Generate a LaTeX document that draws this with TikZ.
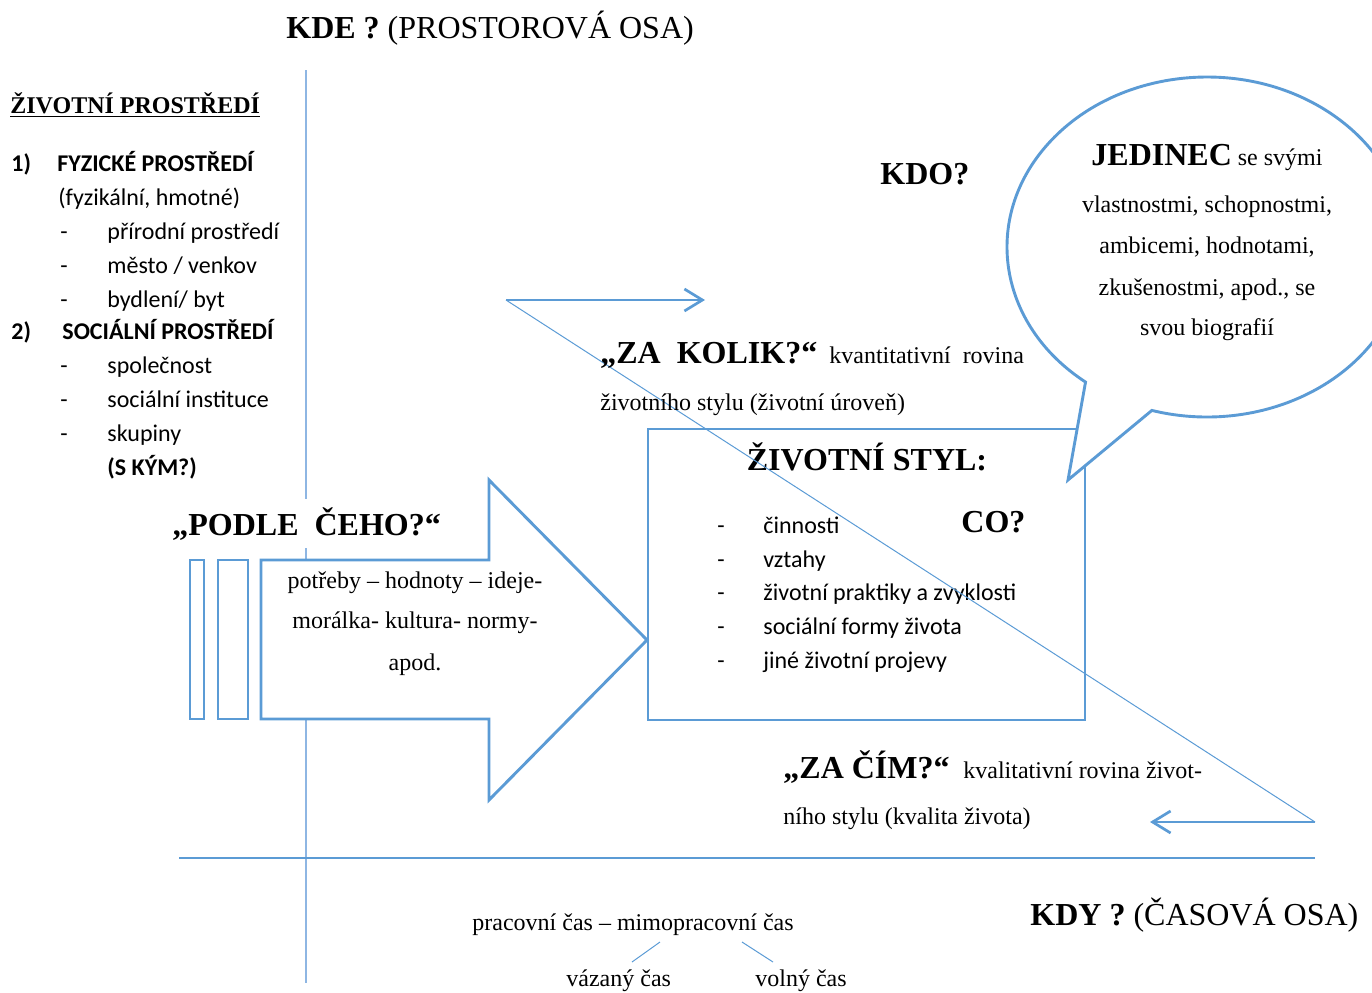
\documentclass[tikz,border=0pt]{standalone}
\usepackage{fontspec}
\setmainfont{Liberation Serif}
\newfontfamily\calibri{Carlito}
\usepackage{tikz}
\usetikzlibrary{arrows.meta,calc}
\definecolor{wordblue}{RGB}{91,155,213}
\definecolor{axisblue}{RGB}{142,182,227}
\tikzset{my shape/.style={draw=wordblue,line width=1.45pt,fill=white},
  my arrow/.style={draw=wordblue,line width=1.35pt,-{Straight Barb[length=9pt,width=11pt]}},
  thin line/.style={draw=wordblue,line width=0.5pt},
  big/.style={font=\fontsize{16}{19}\selectfont\bfseries},
  txt/.style={font=\fontsize{12}{14}\selectfont},
  cal/.style={font=\calibri\fontsize{12}{14}\selectfont}}

\begin{document}
\begin{tikzpicture}[x=0.5pt,y=-0.5pt,every node/.style={inner sep=0pt}]
  \useasboundingbox (0,0) rectangle (1372,992);
  \clip (0,0) rectangle (1372,992);
  % axes
  \coordinate (T) at (306,70);
  \coordinate (B) at (306,983);
  \coordinate (L) at (179,858);
  \coordinate (R) at (1315,858);
  \draw[axisblue,line width=1pt] (T) -- (B);
  \draw[wordblue,line width=1pt] (L) -- (R);
  \node[anchor=base west,font=\fontsize{16}{19}\selectfont] (kde) at (286,38) {\textbf{KDE ?} (PROSTOROVÁ OSA)};
  \node[anchor=base west,font=\fontsize{16}{19}\selectfont] (kdy) at (1030,925) {\textbf{KDY ?} (ČASOVÁ OSA)};
  % left column
  \node[txt,anchor=base west] (env) at (10,113) {\textbf{\underline{ŽIVOTNÍ PROSTŘEDÍ}}};
  \node[cal,anchor=base west] (n1) at (11,171) {\textbf{1)}};
  \node[cal,anchor=base west] (fyz) at (57,171) {\textbf{FYZICKÉ PROSTŘEDÍ}};
  \node[cal,anchor=base west] (fyzb) at (58,205) {(fyzikální, hmotné)};
  \node[cal,anchor=base west] (d1) at (60,239) {-};
  \node[cal,anchor=base west] (f1) at (107,239) {přírodní prostředí};
  \node[cal,anchor=base west] (d2) at (60,273) {-};
  \node[cal,anchor=base west] (f2) at (107,273) {město / venkov};
  \node[cal,anchor=base west] (d3) at (60,307) {-};
  \node[cal,anchor=base west] (f3) at (107,307) {bydlení/ byt};
  \node[cal,anchor=base west] (n2) at (11,339) {\textbf{2)}};
  \node[cal,anchor=base west] (soc) at (62,339) {\textbf{SOCIÁLNÍ PROSTŘEDÍ}};
  \node[cal,anchor=base west] (d4) at (60,373) {-};
  \node[cal,anchor=base west] (s1) at (107,373) {společnost};
  \node[cal,anchor=base west] (d5) at (60,407) {-};
  \node[cal,anchor=base west] (s2) at (107,407) {sociální instituce};
  \node[cal,anchor=base west] (d6) at (60,441) {-};
  \node[cal,anchor=base west] (s3) at (107,441) {skupiny};
  \node[cal,anchor=base west] (skym) at (107,475) {\textbf{(S KÝM?)}};
  % block arrow
  \draw[my shape] (190,560) rectangle (204,719);
  \draw[my shape] (218,560) rectangle (248,719);
  \draw[my shape] (261,560) -- (489,560) -- (489,480) -- (647,640) -- (489,800) -- (489,719) -- (261,719) -- cycle;
  \node[big,fill=white,inner ysep=4pt,anchor=base west] (podle) at (172,535) {„PODLE\ \ ČEHO?“};
  \node[txt,anchor=base] (p1) at (415,588) {potřeby – hodnoty – ideje-};
  \node[txt,anchor=base] (p2) at (415,628) {morálka- kultura- normy-};
  \node[txt,anchor=base] (p3) at (415,670) {apod.};
  % box
  \draw[my shape,fill=none] (648,429) rectangle (1085,720);
  \node[big,anchor=base] (styl) at (867,470) {ŽIVOTNÍ STYL:};
  \node[big,anchor=base west] (co) at (961,532) {CO?};
  \node[cal,anchor=base west] (e1) at (717,533) {-};
  \node[cal,anchor=base west] (c1) at (763,533) {činnosti};
  \node[cal,anchor=base west] (e2) at (717,567) {-};
  \node[cal,anchor=base west] (c2) at (763,567) {vztahy};
  \node[cal,anchor=base west] (e3) at (717,600) {-};
  \node[cal,anchor=base west] (c3) at (763,600) {životní praktiky a zvyklosti};
  \node[cal,anchor=base west] (e4) at (717,634) {-};
  \node[cal,anchor=base west] (c4) at (763,634) {sociální formy života};
  \node[cal,anchor=base west] (e5) at (717,668) {-};
  \node[cal,anchor=base west] (c5) at (763,668) {jiné životní projevy};
  % bubble
  \coordinate (bub) at (1207,247);
  \coordinate (tail) at (1068,480);
  \draw[my shape] (tail) -- ($(bub)+(127.4:200 and 170)$) arc[start angle=127.4,end angle=466,x radius=200,y radius=170] -- cycle;
  \node[txt,anchor=base] (j1) at (1207,165) {{\fontsize{16}{19}\selectfont\bfseries JEDINEC} se svými};
  \node[txt,anchor=base] (j2) at (1207,212) {vlastnostmi, schopnostmi,};
  \node[txt,anchor=base] (j3) at (1207,253) {ambicemi, hodnotami,};
  \node[txt,anchor=base] (j4) at (1207,295) {zkušenostmi, apod., se};
  \node[txt,anchor=base] (j5) at (1207,335) {svou biografií};
  \node[big,anchor=base west] (kdo) at (880,184) {KDO?};
  % Z arrows
  \coordinate (zl) at (506,300);
  \coordinate (zle) at (705,300);
  \coordinate (zr) at (1315,822);
  \coordinate (zre) at (1150,822);
  \draw[my arrow] (zl) -- (zle);
  \draw[thin line] (zl) -- (zr);
  \draw[my arrow] (zr) -- (zre);
  \node[big,anchor=base west] (kolik) at (600,363) {„ZA\ \ KOLIK?“};
  \node[txt,anchor=base west] (kolik1) at (829,363) {kvantitativní\ \ rovina};
  \node[txt,anchor=base west] (kolik2) at (600,410) {životního stylu (životní úroveň)};
  \node[big,anchor=base west] (cim) at (783,778) {„ZA ČÍM?“};
  \node[txt,anchor=base west] (cim1) at (963,778) {kvalitativní rovina\ život-};
  \node[txt,anchor=base west] (cim2) at (783,824) {ního stylu (kvalita života)};
  % time
  \node[txt,anchor=base west] (prac) at (472,930) {pracovní čas – mimopracovní čas};
  \node[txt,anchor=base west] (vaz) at (566,986) {vázaný čas};
  \node[txt,anchor=base west] (vol) at (755,986) {volný čas};
  \coordinate (v1) at (660,942);
  \coordinate (v2) at (632,962);
  \coordinate (w1) at (742,942);
  \coordinate (w2) at (773,962);
  \draw[thin line] (v1) -- (v2);
  \draw[thin line] (w1) -- (w2);
\end{tikzpicture}
\end{document}
